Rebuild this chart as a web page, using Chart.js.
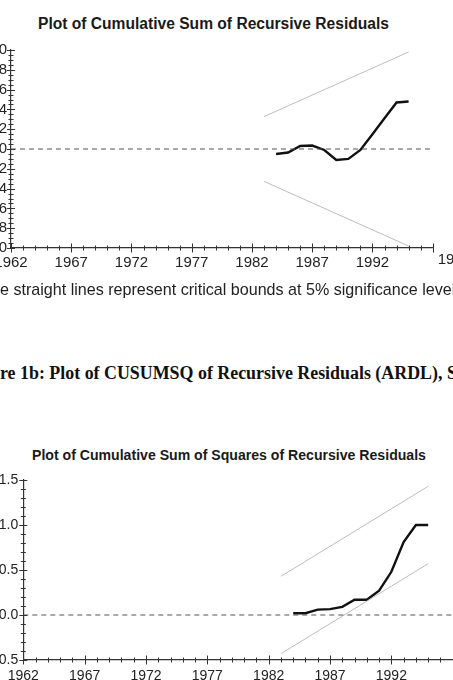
<!DOCTYPE html>
<html>
<head>
<meta charset="utf-8">
<script src="https://cdn.jsdelivr.net/npm/chart.js@4"></script>
<style>
  html, body { margin: 0; padding: 0; background: #fff; }
  body { width: 453px; height: 680px; overflow: hidden; position: relative; font-family: "Liberation Sans", Arial, sans-serif; color: #1a1a1a; }
  .box { position: absolute; }
  .txt { position: absolute; white-space: nowrap; line-height: 20px; }
</style>
</head>
<body>
<div class="txt" style="left:38px; top:14px; font-size:15.6px; font-weight:bold;">Plot of Cumulative Sum of Recursive Residuals</div>
<div class="box" style="left:-50px; top:30px; width:520px; height:250px;"><canvas id="cusum"></canvas></div>
<div class="txt" style="left:0px; top:279px; font-size:16.1px; color:#222;">e straight lines represent critical bounds at 5% significance level</div>
<div class="txt" style="left:0px; top:363px; font-size:17.9px; font-weight:bold; font-family:'Liberation Serif','Times New Roman',serif; color:#111;">re 1b: Plot of CUSUMSQ of Recursive Residuals (ARDL), S</div>
<div class="txt" style="left:32px; top:445px; font-size:14.1px; font-weight:bold;">Plot of Cumulative Sum of Squares of Recursive Residuals</div>
<div class="box" style="left:-40px; top:460px; width:540px; height:240px;"><canvas id="cusumsq"></canvas></div>

<script>
// ---------- Data ----------
const years = [1984, 1985, 1986, 1987, 1988, 1989, 1990, 1991, 1992, 1993, 1994, 1995];
const cusum = [-0.5, -0.35, 0.3, 0.35, -0.1, -1.1, -1.0, -0.1, 1.5, 3.1, 4.7, 4.8];
const cusumsq = [0.02, 0.02, 0.06, 0.065, 0.09, 0.17, 0.17, 0.27, 0.48, 0.81, 1.0, 1.0];

const boundYears = [1983, 1995];
const cusumUpper = [3.27, 9.8];
const cusumLower = [-3.27, -9.8];
const sqUpper = [0.43, 1.43];
const sqLower = [-0.43, 0.57];

const zeroYears = [1962, 1997];
const zeroLine = [0, 0];

const xTicks = [1962, 1967, 1972, 1977, 1982, 1987, 1992, 1997];
const yTicksCusum = [-10, -8, -6, -4, -2, 0, 2, 4, 6, 8, 10];
const yTicksSq = [-0.5, 0, 0.5, 1.0, 1.5];

const axisColor = "#333";

// ---------- Helpers ----------
function pts(xs, ys) {
  return xs.map((x, i) => ({ x: x, y: ys[i] }));
}

function lineSet(xs, ys, color, width, dash) {
  return {
    data: pts(xs, ys),
    borderColor: color,
    borderWidth: width,
    borderDash: dash || [],
    pointRadius: 0,
    tension: 0,
    fill: false
  };
}

// tick marks that cross the axis, major + minor
const tickMarks = {
  id: "tickMarks",
  afterDraw(chart, args, opts) {
    const ctx = chart.ctx;
    const xs = chart.scales.x, ys = chart.scales.y;
    const area = chart.chartArea;
    ctx.save();
    ctx.strokeStyle = axisColor;
    ctx.lineWidth = 1;
    ctx.beginPath();
    let n = Math.round((xs.max - xs.min) / opts.xMinor);
    for (let i = 0; i <= n; i++) {
      const px = Math.round(xs.getPixelForValue(xs.min + i * opts.xMinor)) + 0.5;
      const len = (i % opts.xEvery === 0) ? 4.5 : 2.5;
      ctx.moveTo(px, area.bottom - len);
      ctx.lineTo(px, area.bottom + len);
    }
    n = Math.round((ys.max - ys.min) / opts.yMinor);
    for (let i = 0; i <= n; i++) {
      const py = Math.round(ys.getPixelForValue(ys.min + i * opts.yMinor)) + 0.5;
      const len = (i % opts.yEvery === 0) ? 4 : 2.5;
      ctx.moveTo(area.left - len, py);
      ctx.lineTo(area.left + len, py);
    }
    ctx.stroke();
    if (opts.extraLabel) {
      ctx.fillStyle = "#222";
      ctx.font = opts.font;
      ctx.textBaseline = "middle";
      ctx.textAlign = "left";
      const v = opts.extraLabel;
      ctx.fillText(String(v), xs.getPixelForValue(v) + 5, area.bottom + opts.extraDy);
    }
    ctx.restore();
  }
};

function makeChart(id, cfg) {
  const font = { family: "'Liberation Sans', Arial, sans-serif", size: cfg.fontSize };
  return new Chart(document.getElementById(id), {
    type: "line",
    data: { datasets: cfg.datasets },
    plugins: [tickMarks],
    options: {
      responsive: true,
      maintainAspectRatio: false,
      animation: false,
      layout: { padding: cfg.padding },
      plugins: {
        legend: { display: false },
        tooltip: { enabled: false },
        tickMarks: cfg.marks
      },
      scales: {
        x: {
          type: "linear",
          min: 1962,
          max: 1997,
          afterBuildTicks: s => { s.ticks = xTicks.map(v => ({ value: v })); },
          afterFit: s => { s.height = cfg.xHeight; },
          grid: { drawOnChartArea: false, drawTicks: false },
          border: { display: true, color: axisColor, width: 1.2 },
          ticks: {
            autoSkip: false,
            maxRotation: 0,
            padding: cfg.xPad,
            color: "#222",
            font: font,
            callback: v => (v === 1997 ? "" : String(v))
          }
        },
        y: {
          min: cfg.yMin,
          max: cfg.yMax,
          afterBuildTicks: s => { s.ticks = cfg.yTicks.map(v => ({ value: v })); },
          afterFit: s => { s.width = cfg.yWidth; },
          grid: { drawOnChartArea: false, drawTicks: false },
          border: { display: true, color: axisColor, width: 1.2 },
          ticks: {
            autoSkip: false,
            padding: cfg.yPad,
            color: "#222",
            font: font,
            callback: cfg.yFormat
          }
        }
      }
    }
  });
}

// ---------- Charts ----------
makeChart("cusum", {
  fontSize: 15,
  padding: { top: 20, right: 37.3, left: 0, bottom: 0 },
  xHeight: 32,
  yWidth: 61,
  xPad: 6,
  yPad: 4,
  yMin: -10,
  yMax: 10,
  yTicks: yTicksCusum,
  yFormat: v => String(v),
  marks: { xMinor: 1, xEvery: 5, yMinor: 0.5, yEvery: 4, extraLabel: 1997, extraDy: 12, font: "15px 'Liberation Sans', Arial, sans-serif" },
  datasets: [
    lineSet(zeroYears, zeroLine, "#555", 1, [5, 4]),
    lineSet(boundYears, cusumUpper, "#bdbdbd", 1),
    lineSet(boundYears, cusumLower, "#bdbdbd", 1),
    lineSet(years, cusum, "#111", 2.4)
  ]
});

makeChart("cusumsq", {
  fontSize: 14,
  padding: { top: 20, right: 47.3, left: 0, bottom: 8 },
  xHeight: 32,
  yWidth: 63.3,
  xPad: 8,
  yPad: 5,
  yMin: -0.5,
  yMax: 1.5,
  yTicks: yTicksSq,
  yFormat: v => v.toFixed(1),
  marks: { xMinor: 1, xEvery: 5, yMinor: 0.1, yEvery: 5 },
  datasets: [
    lineSet(zeroYears, zeroLine, "#555", 1, [5, 4]),
    lineSet(boundYears, sqUpper, "#bdbdbd", 1),
    lineSet(boundYears, sqLower, "#bdbdbd", 1),
    lineSet(years, cusumsq, "#111", 2.4)
  ]
});
</script>
</body>
</html>
